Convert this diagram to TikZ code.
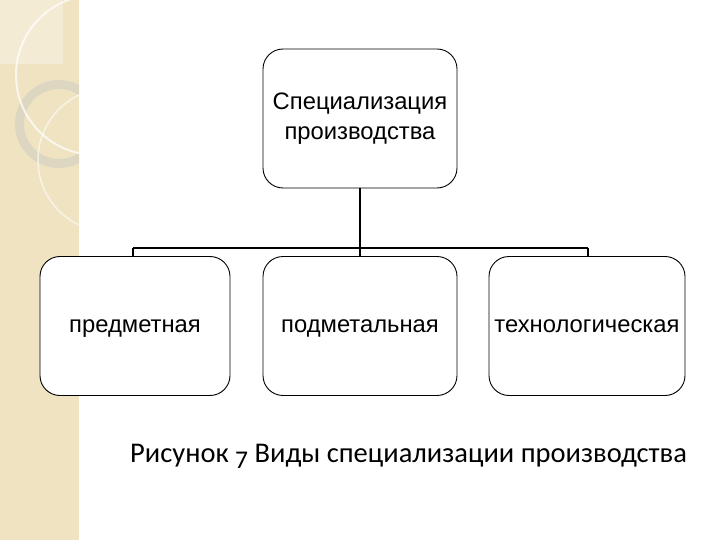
\documentclass[tikz,border=0pt]{standalone}
\usepackage{fontspec}
\setmainfont{Liberation Sans}
\newfontfamily\capfont{Carlito}
\definecolor{stripbg}{HTML}{EFE3C2}
\definecolor{ringcol}{HTML}{DDD7C2}
\newcommand{\oldseven}{\raisebox{-0.24em}{\fontsize{25.5}{25.5}\selectfont 7}}
\begin{document}
\begin{tikzpicture}[x=1pt,y=-1pt,
  box/.style={draw=black,line width=0.9pt,rounded corners=20pt,fill=white,
    minimum width=194pt,minimum height=139pt,align=center,inner sep=0pt,
    font=\fontsize{23.8}{29.5}\selectfont},
  lowbox/.style={box,text height=17pt,text depth=5pt},
  link/.style={draw=black,line width=2pt}]
\useasboundingbox (0,0) rectangle (720,540);
% decorative strip
\fill[stripbg] (0,0) rectangle (79,540);
\begin{scope}
\clip (0,0) rectangle (79,540);
\fill[white,opacity=0.3] (0,0) rectangle (63,63);
\draw[white,opacity=0.35,line width=0.6pt] (0,63) -- (63,63);
\draw[ringcol,line width=9pt] (59,124) circle (39.5);
\draw[white,opacity=0.7,line width=2pt] (96,75) circle (80);
\draw[white,opacity=0.6,line width=1.5pt] (110,160) circle (72);
\end{scope}
% nodes
\node[box] (top) at (360,118.5) {Специализация\\производства};
\node[lowbox,minimum width=190pt] (a) at (135,326) {предметная};
\node[lowbox] (b) at (360,326) {подметальная};
\node[lowbox,minimum width=196pt] (c) at (587,326) {технологическая};
\coordinate (j) at (360,248);
\coordinate (ja) at (133,248);
\coordinate (jc) at (588,248);
\draw[link,line width=2.6pt] (top.south) -- (j);
\draw[link] (ja) -- (jc);
\draw[link] (ja) -- (ja |- a.north);
\draw[link] (j) -- (b.north);
\draw[link] (jc) -- (jc |- c.north);
\node[anchor=base west,inner sep=0pt,font=\capfont\fontsize{28.5}{30}\selectfont] (cap) at (130,462) {Рисунок \oldseven{} Виды специализации производства};
\end{tikzpicture}
\end{document}
